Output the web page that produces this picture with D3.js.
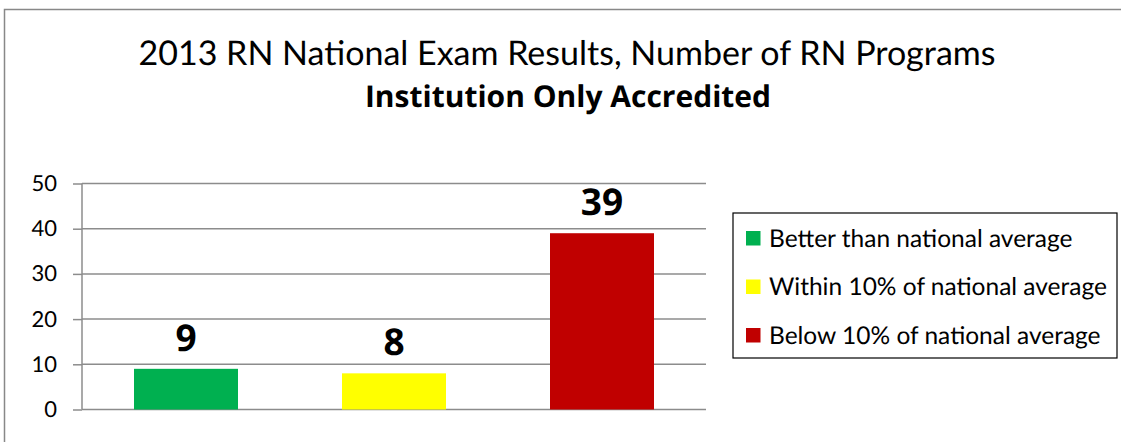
<!DOCTYPE html>
<html>
<head>
<meta charset="utf-8">
<script src="https://cdn.jsdelivr.net/npm/d3@7"></script>
<style>
	html, body { margin: 0; padding: 0; background: #fff; }
	svg { display: block; }
</style>
</head>
<body>
<div class="bar-chart"></div>
<script>
var categories = ['Better than national average', 'Within 10% of national average', 'Below 10% of national average'];
var programCounts = [9, 8, 39];
var barColors = ['#00b050', '#ffff00', '#c00000'];
var yTicks = [0, 10, 20, 30, 40, 50];
var titleLine1 = '2013 RN National Exam Results, Number of RN Programs';
var titleLine2 = 'Institution Only Accredited';

var fontFamily = 'Lato, "Open Sans", sans-serif',
	boldFamily = '"Open Sans", Lato, sans-serif',
	gridColor = '#8c8c8c',
	textColor = '#000';

var totalWidth = 1121,
	totalHeight = 442;
var margin = {top: 183.5, left: 82, bottom: 32.5, right: 415};
var width = totalWidth - margin.left - margin.right;
var height = totalHeight - margin.top - margin.bottom;

var x = d3.scaleBand().domain(categories).range([0, width]).paddingInner(0.5).paddingOuter(0.25);
var y = d3.scaleLinear().domain([0, 50]).range([height, 0]);

var root = d3.select('.bar-chart').append('svg')
	.attr('width', totalWidth)
	.attr('height', totalHeight)
	.attr('font-family', fontFamily)
	.attr('text-rendering', 'geometricPrecision');

// Outer chart border (only the top and left edges fall inside the picture).
root.append('path')
	.attr('d', 'M4.5,' + totalHeight + 'V9.5H' + totalWidth)
	.attr('fill', 'none')
	.attr('stroke', '#888')
	.attr('stroke-width', 1.5);

// Title, two lines.
root.append('text')
	.attr('x', 567)
	.attr('y', 65)
	.attr('text-anchor', 'middle')
	.attr('font-size', '34px')
	.attr('fill', textColor)
	.text(titleLine1);
root.append('text')
	.attr('x', 568)
	.attr('y', 107)
	.attr('text-anchor', 'middle')
	.attr('font-family', boldFamily)
	.attr('font-size', '30px')
	.attr('font-weight', 'bold')
	.attr('fill', textColor)
	.text(titleLine2);

var svg = root.append('g')
	.attr('transform', 'translate(' + margin.left + ',' + margin.top + ')');

// Gridlines.
svg.append('g')
	.selectAll('line')
	.data(yTicks)
	.enter().append('line')
	.attr('x1', 0)
	.attr('x2', width)
	.attr('y1', function(d) { return y(d); })
	.attr('y2', function(d) { return y(d); })
	.attr('stroke', gridColor)
	.attr('stroke-width', 1.5);

// Y axis with outward ticks.
var yAxis = svg.append('g')
	.call(d3.axisLeft(y).tickValues(yTicks).tickSize(9).tickPadding(16));
yAxis.selectAll('line, path').attr('stroke', gridColor).attr('stroke-width', 1.5);
yAxis.select('.domain').attr('d', 'M0,' + y(0) + 'V' + y(50));
yAxis.selectAll('text')
	.attr('font-family', fontFamily)
	.attr('font-size', '22px')
	.attr('fill', textColor);

// Bars.
svg.append('g')
	.selectAll('rect')
	.data(programCounts)
	.enter().append('rect')
	.attr('x', function(d, i) { return x(categories[i]); })
	.attr('y', function(d) { return y(d); })
	.attr('width', x.bandwidth())
	.attr('height', function(d) { return y(0) - y(d); })
	.attr('fill', function(d, i) { return barColors[i]; });

// Value labels above the bars.
svg.append('g')
	.selectAll('text')
	.data(programCounts)
	.enter().append('text')
	.attr('x', function(d, i) { return x(categories[i]) + x.bandwidth() / 2; })
	.attr('y', function(d) { return y(d) - 18; })
	.attr('text-anchor', 'middle')
	.attr('font-family', boldFamily)
	.attr('font-size', '37px')
	.attr('font-weight', 'bold')
	.attr('fill', textColor)
	.text(function(d) { return d; });

// Legend box.
var legend = root.append('g').attr('transform', 'translate(733,213)');
legend.append('rect')
	.attr('width', 384)
	.attr('height', 145)
	.attr('fill', '#fff')
	.attr('stroke', '#000')
	.attr('stroke-width', 1.2);
var item = legend.selectAll('.item')
	.data(categories)
	.enter().append('g')
	.attr('class', 'item')
	.attr('transform', function(d, i) { return 'translate(13,' + (25 + i * 48.5) + ')'; });
item.append('rect')
	.attr('x', 0)
	.attr('y', -7)
	.attr('width', 14.5)
	.attr('height', 14.5)
	.attr('fill', function(d, i) { return barColors[i]; });
item.append('text')
	.attr('x', 23)
	.attr('y', 0)
	.attr('dy', '0.36em')
	.attr('font-size', '24.5px')
	.attr('fill', textColor)
	.text(function(d) { return d; });
</script>
</body>
</html>
